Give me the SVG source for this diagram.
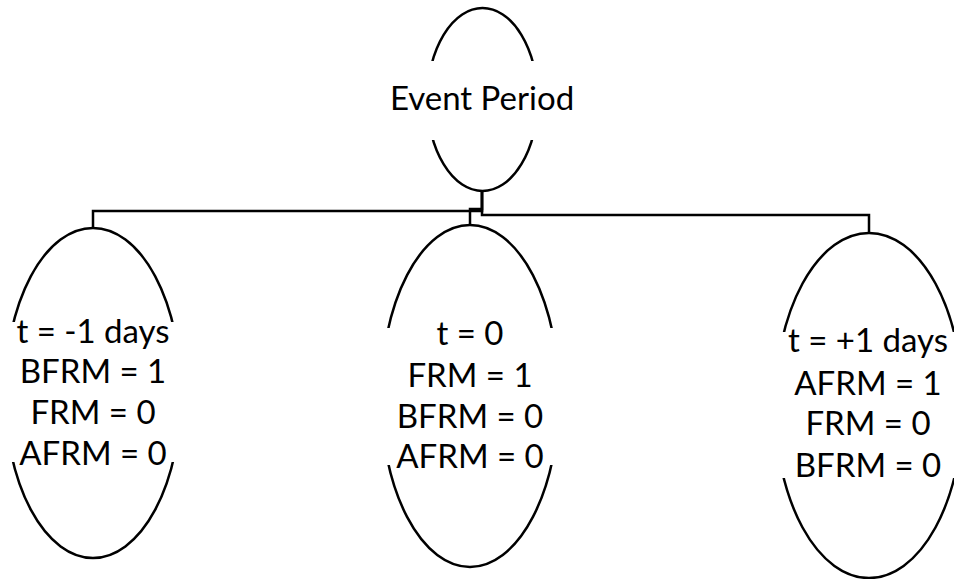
<svg xmlns="http://www.w3.org/2000/svg" width="954" height="579" viewBox="0 0 954 579">
<style>
.shape{fill:none;stroke:#000;stroke-width:2.5}
.bg{fill:#fff;stroke:none}
.lbl{font-family:Lato,"Liberation Sans",sans-serif;font-size:33px;fill:#000;text-anchor:middle}
.conn{fill:none;stroke:#000;stroke-width:2.5}
</style>
<rect width="954" height="579" fill="#fff"/>
<g id="connectors">
<path class="conn" d="M482,191 V211 H93 V228"/>
<path class="conn" d="M482,191 V209 H470 V225"/>
<path class="conn" d="M482,191 V215 H869 V233"/>
</g>
<g id="node-event">
<ellipse class="shape" cx="482.5" cy="99.5" rx="55" ry="91.5"/>
<rect class="bg" x="420" y="61" width="125" height="79"/>
<text class="lbl" x="482" y="110">Event Period</text>
</g>
<g id="node-minus1">
<ellipse class="shape" cx="93" cy="393" rx="88" ry="165"/>
<rect class="bg" x="0" y="322" width="190" height="140"/>
<text class="lbl" x="93" y="343">t = -1 days</text>
<text class="lbl" x="93" y="383">BFRM = 1</text>
<text class="lbl" x="93" y="424">FRM = 0</text>
<text class="lbl" x="93" y="465">AFRM = 0</text>
</g>
<g id="node-zero">
<ellipse class="shape" cx="470" cy="396" rx="89" ry="171"/>
<rect class="bg" x="375" y="328" width="190" height="137"/>
<text class="lbl" x="470" y="345">t = 0</text>
<text class="lbl" x="470" y="387">FRM = 1</text>
<text class="lbl" x="470" y="428">BFRM = 0</text>
<text class="lbl" x="470" y="468">AFRM = 0</text>
</g>
<g id="node-plus1">
<ellipse class="shape" cx="869" cy="405.5" rx="94" ry="172.5"/>
<rect class="bg" x="770" y="332" width="190" height="146"/>
<text class="lbl" x="868" y="352">t = +1 days</text>
<text class="lbl" x="868" y="395">AFRM = 1</text>
<text class="lbl" x="868" y="435">FRM = 0</text>
<text class="lbl" x="868" y="477">BFRM = 0</text>
</g>
</svg>
